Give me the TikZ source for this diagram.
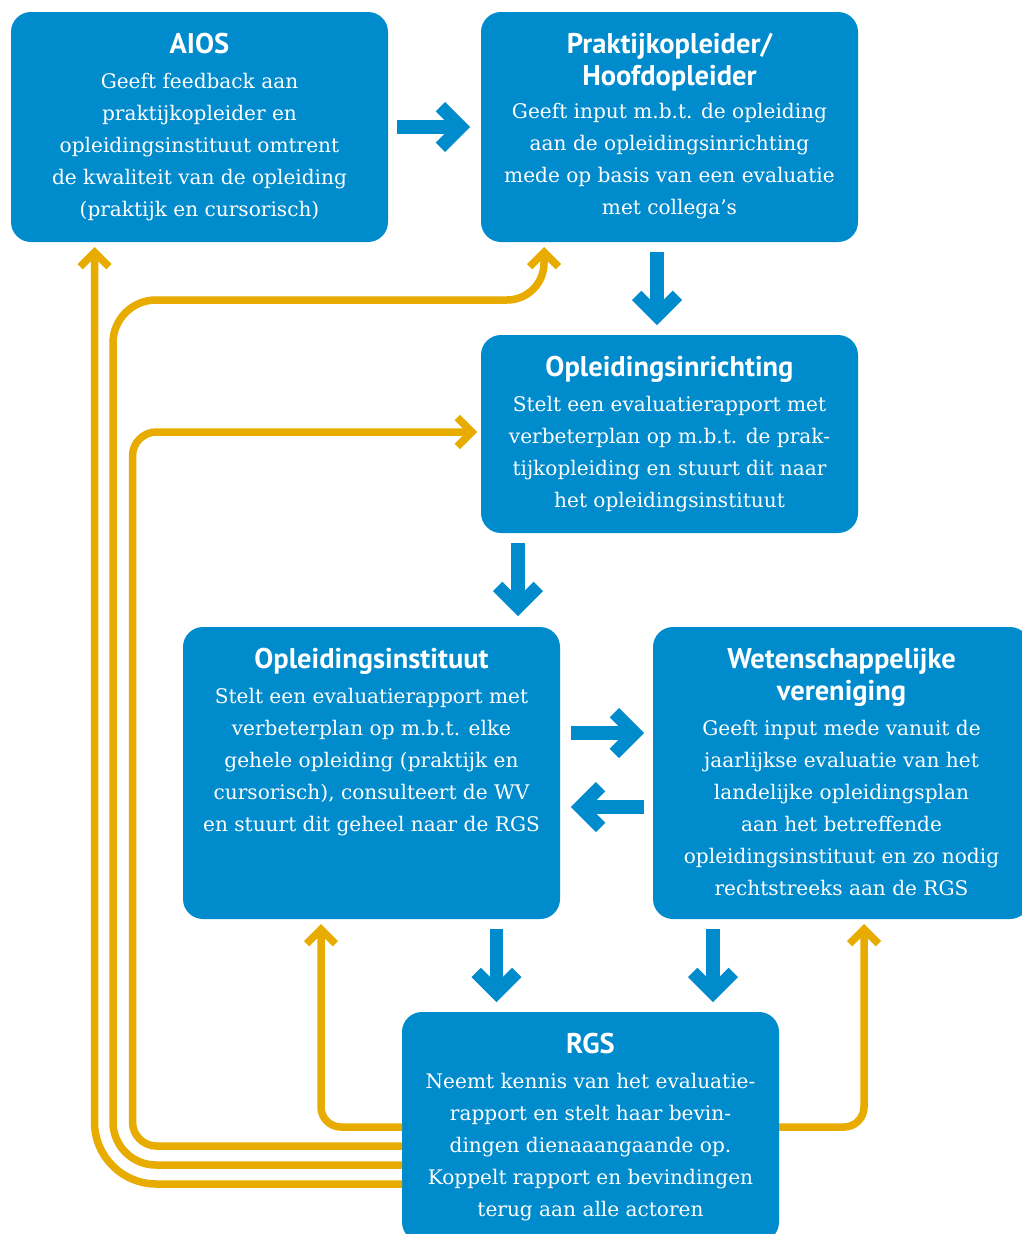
\documentclass[tikz,border=0pt]{standalone}
\usepackage{fontspec}
\setmainfont{DejaVu Serif}
\newfontfamily\ttlfam{PT Sans}
\usetikzlibrary{calc}
\definecolor{boxblue}{RGB}{0,139,204}
\definecolor{gold}{RGB}{232,172,0}
\newcommand\titlef{\ttlfam\bfseries\fontsize{28.5}{32}\selectfont}
\newcommand\bodyf{\fontsize{20.1}{32}\selectfont}
\newcommand\bchev[2]{\draw[bline, shift={(#1)}, rotate=#2] (-20.4,-20.4) -- (0,0) -- (-20.4,20.4);}
\newcommand\ychev[2]{\draw[yline, shift={(#1)}, rotate=#2] (-14.4,-14.4) -- (0,0) -- (-14.4,14.4);}
\tikzset{
  box/.style={rectangle, rounded corners=20pt, fill=boxblue, minimum width=377pt, inner sep=0pt, outer sep=0pt},
  txt/.style={text=white, align=center, anchor=north, inner sep=0pt, font=\bodyf},
  yline/.style={draw=gold, line width=7.5pt, line join=miter},
  bline/.style={draw=boxblue, line width=13.3pt, line join=miter},
}
\begin{document}
\begin{tikzpicture}[x=1pt,y=-1pt]
\fill[white] (0,0) rectangle (1022,1234);
\clip (0,0) rectangle (1022,1234);
\useasboundingbox (0,0) rectangle (1022,1234);

% boxes
\node[box, minimum height=230pt] (aios) at (199.5,127) {};
\node[box, minimum height=230pt] (prak) at (669.5,127) {};
\node[box, minimum height=198pt] (inr) at (669.5,434) {};
\node[box, minimum height=292pt] (inst) at (371.5,773) {};
\node[box, minimum height=292pt] (wv) at (841.5,773) {};
\node[box, minimum height=230pt] (rgs) at (590.5,1127) {};

% yellow connector end points
\coordinate (y1end) at ($(inst.south)+(-50.5,10.3)$);
\coordinate (y2end) at ($(inr.west)+(-9.3,-2)$);
\coordinate (y2a) at ($(y2end)+(-339.2,0)$);
\coordinate (y3end) at ($(prak.south)+(-125.5,10.3)$);
\coordinate (y3b) at ($(y3end)+(0,47.7)$);
\coordinate (y3a) at ($(y3b)+(-431,0)$);
\coordinate (y4end) at ($(aios.south)+(-105,10.3)$);
\coordinate (y5end) at ($(wv.south)+(22.5,10.3)$);

% yellow feedback lines
\draw[yline] (rgs.west) [rounded corners=20pt] -| (y1end);
\ychev{y1end}{90}
\draw[yline] ($(rgs.west)+(0,19)$) [rounded corners=24pt] -| (y2a) [rounded corners=21pt] -- (y2end);
\ychev{y2end}{0}
\draw[yline] ($(rgs.west)+(0,38)$) [rounded corners=43pt] -| (y3a) [rounded corners=37pt] -- (y3b) [rounded corners=19pt] -- (y3end);
\ychev{y3end}{90}
\draw[yline] ($(rgs.west)+(0,57)$) [rounded corners=62pt] -| (y4end);
\ychev{y4end}{90}
\draw[yline] (rgs.east) [rounded corners=20pt] -| (y5end);
\ychev{y5end}{90}

% texts
\node[txt] (aiosT) at ($(aios.north)+(0,21)$) {{\titlef AIOS}\\[3pt]Geeft feedback aan\\praktijkopleider en\\opleidingsinstituut omtrent\\de kwaliteit van de opleiding\\(praktijk en cursorisch)};
\node[txt] (prakT) at ($(prak.north)+(0,21)$) {{\titlef Praktijkopleider/}\\{\titlef Hoofdopleider}\\[1pt]Geeft input m.b.t. de opleiding\\aan de opleidingsinrichting\\mede op basis van een evaluatie\\met collega’s};
\node[txt] (inrT) at ($(inr.north)+(0,21)$) {{\titlef Opleidingsinrichting}\\[3pt]Stelt een evaluatierapport met\\verbeterplan op m.b.t. de prak-\\tijkopleiding en stuurt dit naar\\het opleidingsinstituut};
\node[txt] (instT) at ($(inst.north)+(0,21)$) {{\titlef Opleidingsinstituut}\\[3pt]Stelt een evaluatierapport met\\verbeterplan op m.b.t. elke\\gehele opleiding (praktijk en\\cursorisch), consulteert de WV\\en stuurt dit geheel naar de RGS};
\node[txt] (wvT) at ($(wv.north)+(0,21)$) {{\titlef Wetenschappelijke}\\{\titlef vereniging}\\[3pt]Geeft input mede vanuit de\\jaarlijkse evaluatie van het\\landelijke opleidingsplan\\aan het betreffende\\opleidingsinstituut en zo nodig\\rechtstreeks aan de RGS};
\node[txt] (rgsT) at ($(rgs.north)+(0,21)$) {{\titlef RGS}\\[3pt]Neemt kennis van het evaluatie-\\rapport en stelt haar bevin-\\dingen dienaaangaande op.\\Koppelt rapport en bevindingen\\terug aan alle actoren};

% blue flow arrows
\coordinate (a1s) at ($(aios.east)+(9,0)$);
\coordinate (a1e) at ($(prak.west)+(-20.2,0)$);
\draw[bline] (a1s) -- (a1e); \bchev{a1e}{0}
\coordinate (a2s) at ($(prak.south)+(-12.5,10)$);
\coordinate (a2e) at ($(inr.north)+(-12.5,-19.2)$);
\draw[bline] (a2s) -- (a2e); \bchev{a2e}{-90}
\coordinate (a3s) at ($(inr.south)+(-151.5,10)$);
\coordinate (a3e) at ($(inst.north)+(146.5,-20.2)$);
\draw[bline] (a3s) -- (a3e); \bchev{a3e}{-90}
\coordinate (a4s) at ($(inst.east)+(11,-40)$);
\coordinate (a4e) at ($(wv.west)+(-18.2,-40)$);
\draw[bline] (a4s) -- (a4e); \bchev{a4e}{0}
\coordinate (a5s) at ($(wv.west)+(-9,34)$);
\coordinate (a5e) at ($(inst.east)+(20.2,34)$);
\draw[bline] (a5s) -- (a5e); \bchev{a5e}{180}
\coordinate (a6s) at ($(inst.south)+(125,10)$);
\coordinate (a6e) at ($(rgs.north)+(-94,-19.2)$);
\draw[bline] (a6s) -- (a6e); \bchev{a6e}{-90}
\coordinate (a7s) at ($(wv.south)+(-128.5,10)$);
\coordinate (a7e) at ($(rgs.north)+(122.5,-19.2)$);
\draw[bline] (a7s) -- (a7e); \bchev{a7e}{-90}
\end{tikzpicture}
\end{document}
